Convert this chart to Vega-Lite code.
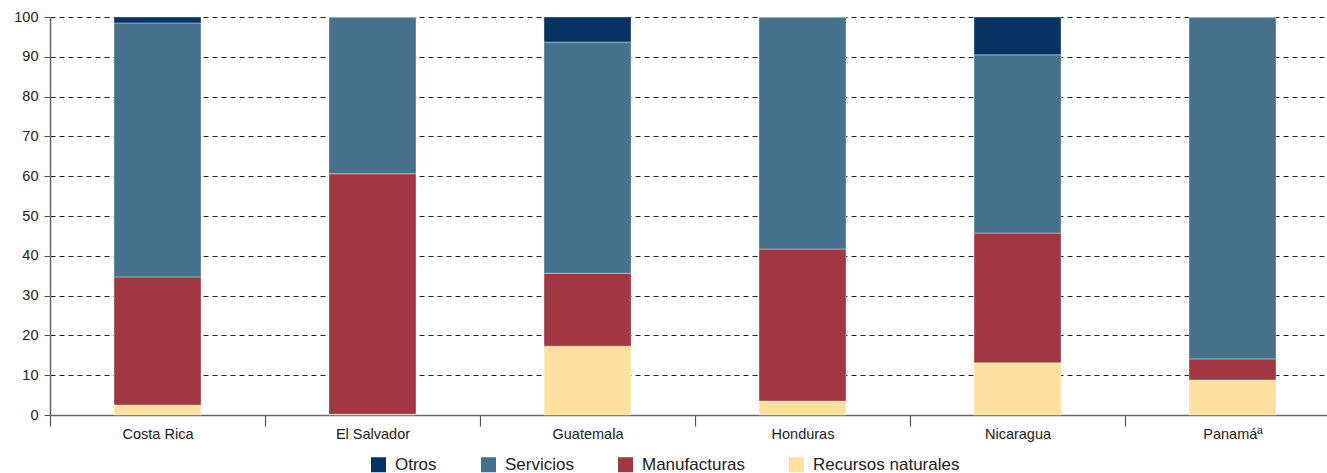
{
  "$schema": "https://vega.github.io/schema/vega-lite/v6.json",
  "autosize": "none",
  "width": 1290,
  "height": 398,
  "padding": {"left": 50, "top": 17, "right": -13, "bottom": 58},
  "background": "white",
  "config": {
    "font": "Liberation Sans",
    "view": {"stroke": null}
  },
  "data": {
    "values": [
      {"pais": "Costa Rica", "sector": "Recursos naturales", "valor": 2.5, "orden": 1},
      {"pais": "Costa Rica", "sector": "Manufacturas", "valor": 32.2, "orden": 2},
      {"pais": "Costa Rica", "sector": "Servicios", "valor": 63.8, "orden": 3},
      {"pais": "Costa Rica", "sector": "Otros", "valor": 1.5, "orden": 4},
      {"pais": "El Salvador", "sector": "Recursos naturales", "valor": 0.2, "orden": 1},
      {"pais": "El Salvador", "sector": "Manufacturas", "valor": 60.4, "orden": 2},
      {"pais": "El Salvador", "sector": "Servicios", "valor": 39.4, "orden": 3},
      {"pais": "El Salvador", "sector": "Otros", "valor": 0, "orden": 4},
      {"pais": "Guatemala", "sector": "Recursos naturales", "valor": 17.3, "orden": 1},
      {"pais": "Guatemala", "sector": "Manufacturas", "valor": 18.3, "orden": 2},
      {"pais": "Guatemala", "sector": "Servicios", "valor": 58.1, "orden": 3},
      {"pais": "Guatemala", "sector": "Otros", "valor": 6.3, "orden": 4},
      {"pais": "Honduras", "sector": "Recursos naturales", "valor": 3.5, "orden": 1},
      {"pais": "Honduras", "sector": "Manufacturas", "valor": 38.2, "orden": 2},
      {"pais": "Honduras", "sector": "Servicios", "valor": 58.3, "orden": 3},
      {"pais": "Honduras", "sector": "Otros", "valor": 0, "orden": 4},
      {"pais": "Nicaragua", "sector": "Recursos naturales", "valor": 13.1, "orden": 1},
      {"pais": "Nicaragua", "sector": "Manufacturas", "valor": 32.6, "orden": 2},
      {"pais": "Nicaragua", "sector": "Servicios", "valor": 44.8, "orden": 3},
      {"pais": "Nicaragua", "sector": "Otros", "valor": 9.5, "orden": 4},
      {"pais": "Panamáª", "sector": "Recursos naturales", "valor": 8.8, "orden": 1},
      {"pais": "Panamáª", "sector": "Manufacturas", "valor": 5.3, "orden": 2},
      {"pais": "Panamáª", "sector": "Servicios", "valor": 85.9, "orden": 3},
      {"pais": "Panamáª", "sector": "Otros", "valor": 0, "orden": 4}
    ]
  },
  "mark": {"type": "bar", "width": 87, "stroke": "#ffffff", "strokeWidth": 0.6, "strokeOpacity": 0.6},
  "encoding": {
    "x": {
      "field": "pais",
      "type": "nominal",
      "sort": null,
      "scale": {"paddingInner": 0, "paddingOuter": 0},
      "axis": {
        "title": null,
        "labelAngle": 0,
        "tickBand": "extent",
        "tickSize": 11,
        "tickColor": "#555555",
        "tickWidth": 1.2,
        "domainColor": "#666666",
        "domainWidth": 1.5,
        "labelFontSize": 14.5,
        "labelColor": "#222222",
        "labelPadding": 1,
        "grid": false
      }
    },
    "y": {
      "field": "valor",
      "type": "quantitative",
      "stack": "zero",
      "scale": {"domain": [0, 100], "nice": false},
      "axis": {
        "title": null,
        "values": [0, 10, 20, 30, 40, 50, 60, 70, 80, 90, 100],
        "tickSize": 6,
        "tickColor": "#555555",
        "domainColor": "#666666",
        "domainWidth": 1.5,
        "labelFontSize": 14.5,
        "labelColor": "#222222",
        "labelPadding": 6,
        "grid": true,
        "gridColor": "#222222",
        "gridDash": [5, 4],
        "gridWidth": 1,
        "zindex": 0
      }
    },
    "color": {
      "field": "sector",
      "type": "nominal",
      "scale": {
        "domain": ["Otros", "Servicios", "Manufacturas", "Recursos naturales"],
        "range": ["#063361", "#45718c", "#a23744", "#fee19f"]
      },
      "legend": {
        "title": null,
        "orient": "none",
        "direction": "horizontal",
        "legendX": 320,
        "legendY": 439,
        "symbolType": "square",
        "symbolSize": 225,
        "symbolStrokeWidth": 0,
        "labelFontSize": 17,
        "labelColor": "#222222",
        "labelOffset": 8,
        "columnPadding": 43
      }
    },
    "order": {"field": "orden", "type": "quantitative"}
  }
}
